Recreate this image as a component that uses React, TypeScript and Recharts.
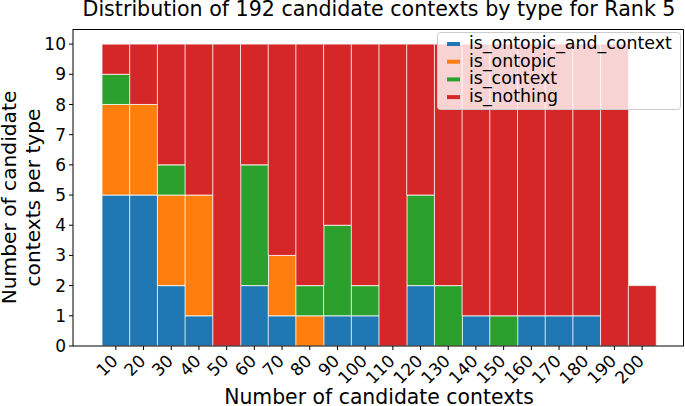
import { BarChart, Bar, XAxis, YAxis } from 'recharts'

const counts = [10, 20, 30, 40, 50, 60, 70, 80, 90, 100, 110, 120, 130, 140, 150, 160, 170, 180, 190, 200]
const ontopicAndContext = [5, 5, 2, 1, 0, 2, 1, 0, 1, 1, 0, 2, 0, 1, 0, 1, 1, 1, 0, 0]
const ontopic = [3, 3, 3, 4, 0, 0, 2, 1, 0, 0, 0, 0, 0, 0, 0, 0, 0, 0, 0, 0]
const context = [1, 0, 1, 0, 0, 4, 0, 1, 3, 1, 0, 3, 2, 0, 1, 0, 0, 0, 0, 0]
const nothing = [1, 2, 4, 5, 10, 4, 7, 8, 6, 8, 10, 5, 8, 9, 9, 9, 9, 9, 10, 2]
const yTicks = [0, 1, 2, 3, 4, 5, 6, 7, 8, 9, 10]

const SERIES = [
  { key: 'is_ontopic_and_context', color: '#1f77b4' },
  { key: 'is_ontopic', color: '#ff7f0e' },
  { key: 'is_context', color: '#2ca02c' },
  { key: 'is_nothing', color: '#d62728' },
]

const data = counts.map((n, i) => ({
  n,
  is_ontopic_and_context: ontopicAndContext[i],
  is_ontopic: ontopic[i],
  is_context: context[i],
  is_nothing: nothing[i],
}))

const FONT = '"DejaVu Sans", sans-serif'

// plot box (matches margin + axis sizes below)
const PLOT = { left: 73, top: 29, right: 684, bottom: 346 }

const XTick = ({ x, y, payload }: any) => (
  <text
    x={x + 3}
    y={y + 10}
    textAnchor="end"
    fontSize={17}
    fontFamily={FONT}
    fill="#000"
    transform={`rotate(-45, ${x + 3}, ${y + 10})`}
  >
    {payload.value}
  </text>
)

export default function App() {
  return (
    <div style={{ position: 'absolute', left: 0, top: 0, width: 685, height: 406, background: '#fff' }}>
      <BarChart
        width={685}
        height={406}
        data={data}
        margin={{ top: PLOT.top, right: 685 - PLOT.right, bottom: 0, left: 0 }}
        barCategoryGap={0}
      >
        <XAxis
          dataKey="n"
          height={406 - PLOT.bottom}
          padding={{ left: 29, right: 28 }}
          tick={<XTick />}
          tickSize={4}
          interval={0}
          axisLine={{ stroke: '#000', strokeWidth: 1 }}
          tickLine={{ stroke: '#000' }}
        />
        <YAxis
          width={PLOT.left}
          domain={[0, 10.5]}
          ticks={yTicks}
          interval={0}
          tickSize={4}
          tickMargin={3}
          tick={{ fontSize: 17, fontFamily: FONT, fill: '#000' }}
          axisLine={{ stroke: '#000', strokeWidth: 1 }}
          tickLine={{ stroke: '#000' }}
        />
        {SERIES.map(s => (
          <Bar
            key={s.key}
            dataKey={s.key}
            stackId="a"
            fill={s.color}
            stroke="#ffffff"
            strokeOpacity={0.75}
            strokeWidth={1}
            isAnimationActive={false}
          />
        ))}
      </BarChart>
      <svg
        width={685}
        height={406}
        style={{ position: 'absolute', left: 0, top: 0, pointerEvents: 'none' }}
        fontFamily={FONT}
      >
        {/* top and right spines */}
        <polyline
          points={`${PLOT.left},${PLOT.top + 0.5} ${PLOT.right - 0.5},${PLOT.top + 0.5} ${PLOT.right - 0.5},${PLOT.bottom}`}
          fill="none"
          stroke="#000"
          strokeWidth={1}
        />
        <text x={379} y={15.5} textAnchor="middle" fontSize={20.6} fill="#000">
          Distribution of 192 candidate contexts by type for Rank 5
        </text>
        <text x={379} y={404} textAnchor="middle" fontSize={20.4} fill="#000">
          Number of candidate contexts
        </text>
        <g transform="translate(0, 197.5) rotate(-90)">
          <text x={0} y={15.5} textAnchor="middle" fontSize={20.2} fill="#000">
            Number of candidate
          </text>
          <text x={0} y={39.5} textAnchor="middle" fontSize={20.2} fill="#000">
            contexts per type
          </text>
        </g>
        <g transform="translate(437, 32)">
          <rect x={0.5} y={0.5} width={243} height={77} rx={3} fill="#fff" fillOpacity={0.8} stroke="#cccccc" />
          {SERIES.map((s, i) => (
            <g key={s.key} transform={`translate(0, ${12 + i * 17.7})`}>
              <rect x={10} y={-2} width={13} height={4} fill={s.color} />
              <text x={32} y={5} fontSize={17.4} fill="#000">
                {s.key}
              </text>
            </g>
          ))}
        </g>
      </svg>
    </div>
  )
}
